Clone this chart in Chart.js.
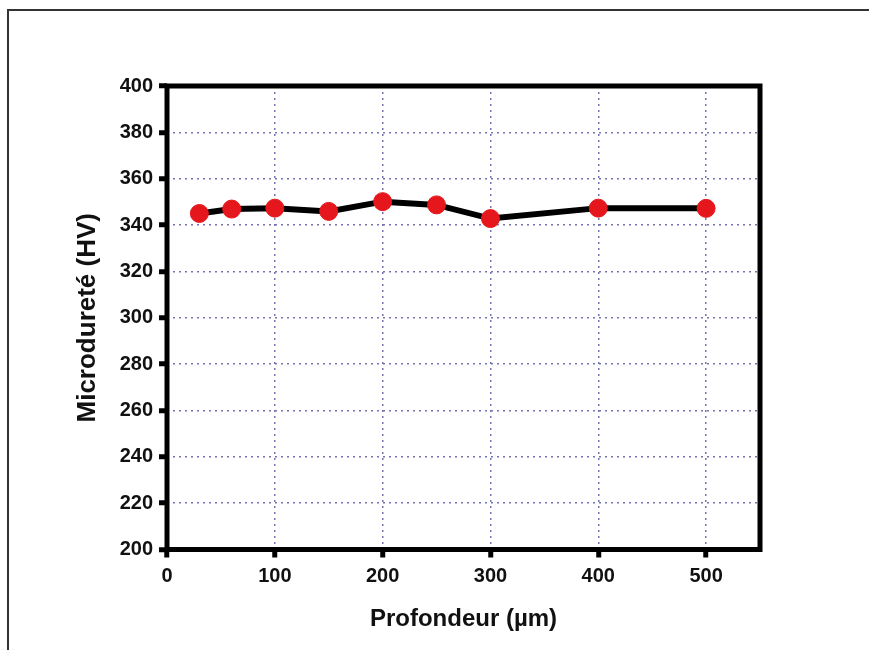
<!DOCTYPE html>
<html>
<head>
<meta charset="utf-8">
<script src="https://cdn.jsdelivr.net/npm/chart.js@4/dist/chart.umd.min.js"></script>
<style>
	html, body { margin: 0; padding: 0; background: #fff; }
	#wrap { position: relative; width: 869px; height: 650px; overflow: hidden; }
	#frame { position: absolute; left: 7px; top: 9px; width: 900px; height: 700px; border-top: 2px solid #333; border-left: 2px solid #333; }
	#hvChart { position: absolute; left: 0; top: 0; }
</style>
</head>
<body>
<div id="wrap">
	<div id="frame"></div>
	<canvas id="hvChart" width="869" height="650"></canvas>
</div>
<script>
const depths = [30, 60, 100, 150, 200, 250, 300, 400, 500];
const hardness = [345.0, 346.9, 347.3, 345.9, 350.1, 348.7, 342.8, 347.3, 347.2];
const xTicks = [0, 100, 200, 300, 400, 500];
const yTicks = [200, 220, 240, 260, 280, 300, 320, 340, 360, 380, 400];

const fontFamily = '"Liberation Sans", Arial, Helvetica, sans-serif';

// thick black frame round the plot area
const plotBox = {
	id: 'plotBox',
	beforeDatasetsDraw(chart) {
		const { ctx, chartArea: a } = chart;
		ctx.save();
		ctx.setLineDash([]);
		ctx.lineWidth = 5;
		ctx.strokeStyle = '#000';
		ctx.strokeRect(a.left, a.top, a.right - a.left, a.bottom - a.top);
		ctx.restore();
	}
};

function renderHardnessChart() {
	const canvas = document.getElementById('hvChart');
	const ctx = canvas.getContext('2d');

	new Chart(ctx, {
		type: 'line',
		data: {
			datasets: [{
				data: depths.map((d, i) => ({ x: d, y: hardness[i] })),
				borderColor: '#000',
				borderWidth: 6,
				tension: 0,
				pointRadius: 9,
				pointBackgroundColor: '#e5171c',
				pointBorderColor: '#e5171c',
				pointBorderWidth: 1
			}]
		},
		options: {
			responsive: false,
			animation: false,
			layout: { padding: { left: 0, top: 86, right: 109, bottom: 0 } },
			plugins: { legend: { display: false }, tooltip: { enabled: false } },
			scales: {
				x: {
					type: 'linear',
					min: 0,
					max: 550,
					afterBuildTicks: axis => { axis.ticks = xTicks.map(v => ({ value: v })); },
					afterFit: axis => { axis.height = 100.5; },
					grid: {
						color: '#7474b4',
						lineWidth: 1.5,
						tickColor: '#000',
						tickWidth: 5,
						tickLength: 8,
						tickBorderDash: []
					},
					border: { display: false, dash: [2, 4] },
					ticks: {
						color: '#111',
						padding: 7,
						maxRotation: 0,
						font: { family: fontFamily, size: 20, weight: 'bold' }
					},
					title: {
						display: true,
						text: 'Profondeur (µm)',
						color: '#111',
						padding: { top: 0, bottom: 16 },
						font: { family: fontFamily, size: 24, weight: 'bold' }
					}
				},
				y: {
					min: 200,
					max: 400,
					afterBuildTicks: axis => { axis.ticks = yTicks.map(v => ({ value: v })); },
					afterFit: axis => { axis.width = 167; },
					grid: {
						color: '#7474b4',
						lineWidth: 1.5,
						tickColor: '#000',
						tickWidth: 5,
						tickLength: 8,
						tickBorderDash: []
					},
					border: { display: false, dash: [2, 4] },
					ticks: {
						color: '#111',
						padding: 6,
						font: { family: fontFamily, size: 20, weight: 'bold' }
					},
					title: {
						display: true,
						text: 'Microdureté (HV)',
						color: '#111',
						padding: { top: 72, bottom: 0 },
						font: { family: fontFamily, size: 26, weight: 'bold' }
					}
				}
			}
		},
		plugins: [plotBox]
	});
}

renderHardnessChart();
</script>
</body>
</html>
